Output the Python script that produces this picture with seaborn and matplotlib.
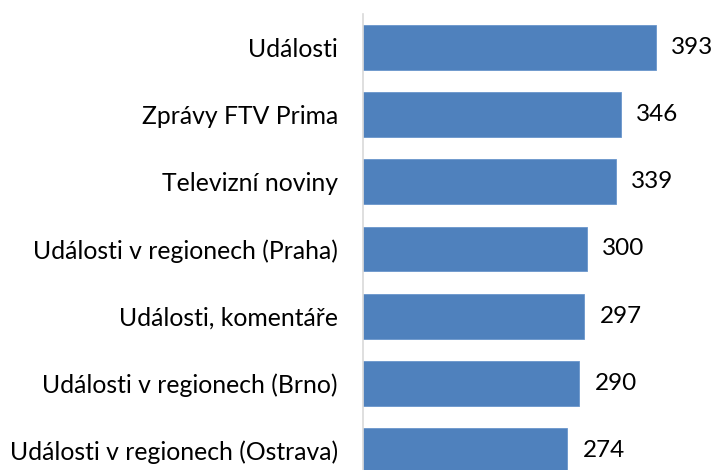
import matplotlib
matplotlib.use("Agg")
import matplotlib.pyplot as plt
import seaborn as sns
import pandas as pd

# Data
programs = [
    "Události",
    "Zprávy FTV Prima",
    "Televizní noviny",
    "Události v regionech (Praha)",
    "Události, komentáře",
    "Události v regionech (Brno)",
    "Události v regionech (Ostrava)",
]
values = [393, 346, 339, 300, 297, 290, 274]

df = pd.DataFrame({"program": programs, "value": values})

sns.set_theme(style="white")
plt.rcParams["font.family"] = ["Lato", "DejaVu Sans"]

fig = plt.figure(figsize=(7.14, 4.70), dpi=100)
# axes extend below the figure edge, as in the cropped reference
ax = fig.add_axes([363 / 714, 1 - 484 / 470, 351 / 714, 470 / 470])

sns.barplot(data=df, x="value", y="program", orient="h", color="#4f81bd",
            width=0.67, saturation=1, edgecolor="#6a96cc", linewidth=0.6, ax=ax)

ax.set_xlim(0, 471)
ax.set_ylim(6.5, -0.5)
ax.bar_label(ax.containers[0], padding=11, fontsize=17.5, color="black")

ax.set_xlabel("")
ax.set_ylabel("")
ax.set_xticks([])
ax.tick_params(axis="y", length=0, pad=18, labelsize=17.8, labelcolor="black")
for side in ["top", "right", "bottom"]:
    ax.spines[side].set_visible(False)
ax.spines["left"].set_color("#d9d9d9")
ax.spines["left"].set_linewidth(1.2)

fig.savefig("out.png", dpi=100)
